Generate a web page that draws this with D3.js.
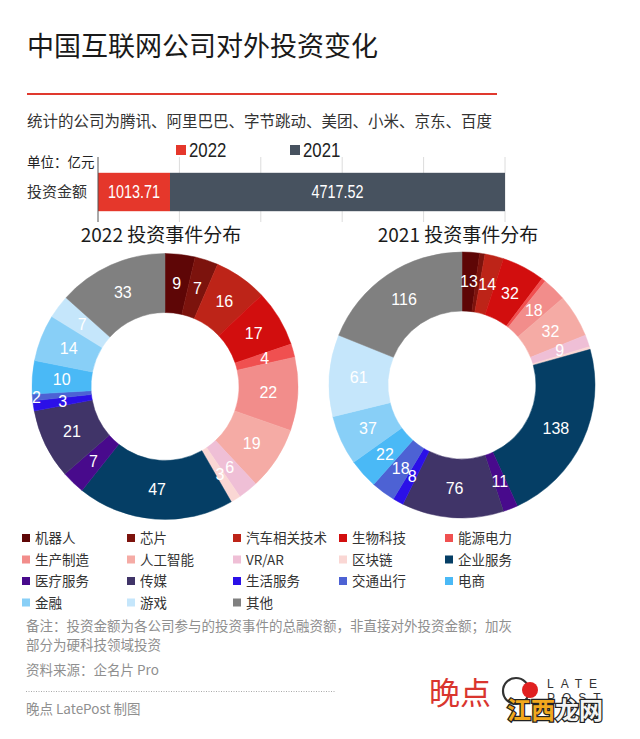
<!DOCTYPE html>
<html><head><meta charset="utf-8">
<script src="https://cdn.jsdelivr.net/npm/d3@7/dist/d3.min.js"></script>
<style>
html,body{margin:0;padding:0;background:#fff;}
svg{display:block;}
</style></head>
<body><svg id="c" width="640" height="739"></svg>
<script>
// ---------- data ----------
const categories = ["机器人","芯片","汽车相关技术","生物科技","能源电力","生产制造","人工智能","VR/AR","区块链","企业服务","医疗服务","传媒","生活服务","交通出行","电商","金融","游戏","其他"];
const colors = ["#5e0606","#7c130d","#bd2418","#d20e0e","#f05050","#f28d8b","#f5aba5","#efbfd6","#fad7d4","#053e65","#480a8c","#403468","#2b10e8","#4d62d4","#4ab9f6","#88cff7","#c5e6fb","#808080"];
const events2022 = [9,7,16,17,4,22,19,6,3,47,7,21,3,2,10,14,7,33];
const events2021 = [13,4,14,32,3,18,32,9,2,138,11,76,8,18,22,37,61,116];
const labelMin2022 = 1;
const labelMin2021 = 5;
const amountYears = ["2022","2021"];
const amountValues = [1013.71, 4717.52];
const amountColors = ["#e5372b","#47525f"];
const amountRowLabel = "投资金额";

const FONT = "'Noto Sans CJK SC','Noto Sans',sans-serif";
const NUM = "'Liberation Sans','Noto Sans',sans-serif";

const svg = d3.select("#c");
svg.append("rect").attr("width",640).attr("height",739).attr("fill","#fff");

// ---------- header ----------
svg.append("text").attr("x",27).attr("y",56).attr("font-family",FONT).attr("font-size",27)
  .attr("fill","#1a1a1a").text("中国互联网公司对外投资变化");
svg.append("line").attr("x1",27).attr("x2",497).attr("y1",94).attr("y2",94)
  .attr("stroke","#e0392e").attr("stroke-width",2);
svg.append("text").attr("x",27).attr("y",127).attr("font-family",FONT).attr("font-size",15.5)
  .attr("fill","#333").text("统计的公司为腾讯、阿里巴巴、字节跳动、美团、小米、京东、百度");

// ---------- stacked bar ----------
const total = d3.sum(amountValues);
const xBar = d3.scaleLinear().domain([0,total]).range([98,505]);
const ticks = d3.range(6).map(i => total*i/5);
svg.append("g").selectAll("line").data(ticks.slice(1)).join("line")
  .attr("x1",d=>xBar(d)).attr("x2",d=>xBar(d)).attr("y1",157).attr("y2",222)
  .attr("stroke","#dcdcdc").attr("stroke-width",1);

const stack = [];
let acc = 0;
amountValues.forEach((v,i)=>{stack.push({y0:acc,y1:acc+v,v,i}); acc+=v;});
const yBand = d3.scaleBand().domain([amountRowLabel]).range([160,224]).padding(0.25);
svg.append("g").selectAll("rect").data(stack).join("rect")
  .attr("x",d=>xBar(d.y0)).attr("width",d=>xBar(d.y1)-xBar(d.y0))
  .attr("y",yBand(amountRowLabel)).attr("height",yBand.bandwidth())
  .attr("fill",d=>amountColors[d.i]);
svg.append("g").selectAll("text").data(stack).join("text")
  .attr("transform",d=>`translate(${(xBar(d.y0)+xBar(d.y1))/2},${yBand(amountRowLabel)+yBand.bandwidth()/2+6}) scale(0.8,1)`)
  .attr("text-anchor","middle").attr("font-family",NUM).attr("font-size",18)
  .attr("fill","#fff").text(d=>d3.format(".2f")(d.v));
svg.append("line").attr("x1",98).attr("x2",98).attr("y1",157).attr("y2",222)
  .attr("stroke","#555").attr("stroke-width",1);
svg.append("text").attr("x",27).attr("y",197).attr("font-family",FONT).attr("font-size",15)
  .attr("fill","#333").text(amountRowLabel);
svg.append("text").attr("x",27).attr("y",167).attr("font-family",FONT).attr("font-size",13.5)
  .attr("fill","#222").text("单位：亿元");

// bar legend
const barLeg = [{x:176},{x:290}];
amountYears.forEach((y,i)=>{
  svg.append("rect").attr("x",barLeg[i].x).attr("y",145).attr("width",10).attr("height",10).attr("fill",amountColors[i]);
  svg.append("text").attr("transform",`translate(${barLeg[i].x+13},157) scale(0.82,1)`)
    .attr("font-family",NUM).attr("font-size",20.5)
    .attr("fill","#222").text(y);
});

// ---------- donuts ----------
function donut(cx, cy, values, title, labelMin){
  const g = svg.append("g").attr("transform",`translate(${cx},${cy})`);
  const pie = d3.pie().sort(null).value(d=>d.v);
  const data = pie(values.map((v,i)=>({v,i})));
  const rO = 133, rI = 74;
  const arc = d3.arc().innerRadius(rI).outerRadius(rO);
  g.selectAll("path").data(data).join("path").attr("d",arc)
    .attr("fill",d=>colors[d.data.i]).attr("stroke",d=>colors[d.data.i]).attr("stroke-width",0.5);
  const lab = data.filter(d=>d.data.v>=labelMin);
  g.selectAll("text").data(lab).join("text")
    .attr("transform",d=>{
      const a = (d.startAngle+d.endAngle)/2;
      const r = (d.endAngle-d.startAngle) < 0.06 ? rO-4 : (rO+rI)/2;
      return `translate(${Math.sin(a)*r},${-Math.cos(a)*r})`;
    })
    .attr("text-anchor","middle").attr("dy","0.36em")
    .attr("font-family",NUM).attr("font-size",16).attr("fill","#fff")
    .text(d=>d.data.v);
  svg.append("text").attr("x",cx-4).attr("y",242).attr("text-anchor","middle")
    .attr("font-family",FONT).attr("font-size",19).attr("fill","#1a1a1a").text(title);
}
donut(165,386.5,events2022,"2022 投资事件分布",labelMin2022);
donut(462,385,events2021,"2021 投资事件分布",labelMin2021);

// ---------- legend ----------
const legX = [22,127,233,339,445];
const legY = [538,559.5,581,602.5];
const leg = svg.append("g");
categories.forEach((c,i)=>{
  const col = i%5, row = Math.floor(i/5);
  leg.append("rect").attr("x",legX[col]).attr("y",legY[row]-4).attr("width",8).attr("height",8).attr("fill",colors[i]);
  leg.append("text").attr("x",legX[col]+13).attr("y",legY[row]+5).attr("font-family",FONT)
    .attr("font-size",13.5).attr("fill","#333").text(c);
});

// ---------- footer ----------
const foot = svg.append("g").attr("font-family",FONT).attr("font-size",13.5).attr("fill","#8f8f8f");
foot.append("text").attr("x",26).attr("y",631).text("备注：投资金额为各公司参与的投资事件的总融资额，非直接对外投资金额；加灰");
foot.append("text").attr("x",26).attr("y",650).text("部分为硬科技领域投资");
foot.append("text").attr("x",26).attr("y",675).text("资料来源：企名片 Pro");
foot.append("text").attr("x",26).attr("y",714).text("晚点 LatePost 制图");
svg.append("line").attr("x1",26).attr("x2",335).attr("y1",691.5).attr("y2",691.5)
  .attr("stroke","#aaa").attr("stroke-width",1).attr("stroke-dasharray","1,1.5");

// logo
svg.append("text").attr("x",429).attr("y",704).attr("font-family",FONT).attr("font-size",31)
  .attr("fill","#d9352e").text("晚点");
svg.append("circle").attr("cx",516).attr("cy",691).attr("r",13).attr("fill","none").attr("stroke","#333").attr("stroke-width",2.2);
svg.append("circle").attr("cx",530).attr("cy",690).attr("r",8).attr("fill","#e02020");
svg.append("text").attr("x",547).attr("y",688).attr("font-family",NUM).attr("font-size",12)
  .attr("letter-spacing",7).attr("fill","#333").text("LATE");
svg.append("text").attr("x",547).attr("y",702).attr("font-family",NUM).attr("font-size",12)
  .attr("letter-spacing",7).attr("fill","#333").text("POST");
// watermark
const wm = svg.append("g").attr("font-family",FONT).attr("font-size",24).attr("font-weight","bold")
  .attr("stroke","#222").attr("stroke-width",2.5).attr("paint-order","stroke");
wm.append("text").attr("x",507).attr("y",719).attr("fill","#f2a81e").text("江西");
wm.append("text").attr("x",555).attr("y",719).attr("fill","#f4f4f4").text("龙网");
</script></body></html>
